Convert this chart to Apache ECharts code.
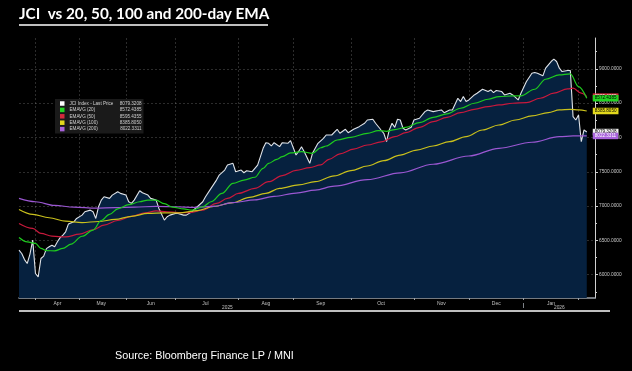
<!DOCTYPE html>
<html><head><meta charset="utf-8">
<script src="https://cdn.jsdelivr.net/npm/echarts@6/dist/echarts.min.js"></script>
<style>html,body{margin:0;padding:0;background:#000;}#c{width:632px;height:371px;}</style>
</head><body><div id="c"></div>
<script>
// ---- axis definitions (trading days per month shown on the chart) ----
const monthNames = ['Mar','Apr','May','Jun','Jul','Aug','Sep','Oct','Nov','Dec','Jan','Feb'];
const monthTradingDays = [6,16,17,18,23,20,21,23,20,20,20,7];
const yearLabelDays = [76,197];
const yearLabelTexts = ['2025','2026'];
const yearBoundaryDay = 184;
const yTickValues = [6000,6500,7000,7500,8000,8500,9000];
const yMinorTickValues = [5750,6250,6750,7250,7750,8250,8750,9250];

// ---- series (trading-day index, value) ----
const priceDays = [0,1,2,3,4,5,6,7,8,9,10,11,12,13,14,15,16,17,18,20,21,23,24,26,27,28,29,30,31,33,34,36,37,39,40,41,42,44,45,47,48,50,51,53,54,55,57,58,60,61,63,65,67,68,70,72,73,75,76,78,79,81,82,83,85,87,89,90,91,92,93,95,96,98,99,101,102,103,104,106,107,109,111,112,114,116,117,119,120,122,124,126,127,129,130,132,133,134,135,136,137,138,139,140,141,143,144,146,148,149,151,153,154,155,157,158,160,161,162,163,164,166,167,169,171,172,173,174,176,177,179,180,182,183,185,187,188,189,191,192,194,195,196,197,198,200,201,202,203,204,205,206,207];
const priceVals = [6357,6309,6220,6163,6300,6503,6017,5968,6236,6270,6380,6406,6430,6406,6479,6540,6576,6625,6737,6771,6820,6868,6917,6941,6917,6820,6990,7087,7136,7112,7160,7209,7185,7160,7063,7039,7087,7224,7194,7160,7112,7087,6966,6795,6844,6868,6893,6893,6868,6868,6917,6990,7063,7136,7258,7379,7452,7525,7598,7623,7501,7525,7486,7515,7501,7598,7842,7924,7915,7876,7924,7866,7924,7915,7954,7744,7800,7866,7793,7623,7769,7915,7988,8036,8036,8119,8061,8119,8070,8119,8158,8207,8255,8265,8207,8109,8061,7939,8109,8207,8148,8265,8255,8134,8109,8148,8255,8280,8377,8401,8377,8392,8401,8362,8401,8401,8572,8523,8596,8523,8547,8620,8645,8703,8669,8693,8654,8684,8669,8620,8645,8620,8547,8645,8815,8937,8946,8937,8898,9010,9107,9141,9107,9010,8961,8976,8976,8304,8255,8328,7939,8109,8079.3208];

const ema20Days = [0,3,6,8,10,13,16,19,23,27,30,33,36,40,44,47,50,53,56,60,63,67,70,74,78,82,86,89,91,94,96,99,103,107,110,112,116,121,127,131,134,137,141,146,151,156,161,166,171,175,180,183,188,192,197,201,204,207];
const ema20Vals = [6543,6479,6455,6382,6350,6347,6382,6445,6560,6650,6790,6880,6960,7020,7063,7087,7087,7035,6985,6960,6941,6990,7063,7185,7331,7379,7420,7550,7623,7680,7720,7775,7793,7769,7850,7876,7963,8002,8061,8100,8090,8115,8148,8216,8294,8343,8426,8499,8557,8596,8606,8606,8703,8849,8912,8927,8742,8572.4385];

const ema50Days = [0,5,8,12,17,22,27,31,36,41,46,50,54,58,62,67,72,76,80,86,91,96,101,106,110,113,117,122,127,132,137,141,146,151,156,161,166,171,175,180,185,190,195,200,202,205,207];
const ema50Vals = [6747,6674,6601,6562,6550,6590,6655,6722,6790,6850,6902,6930,6917,6905,6905,6941,7039,7112,7185,7258,7355,7445,7520,7560,7600,7681,7760,7830,7890,7935,8012,8070,8148,8231,8294,8362,8411,8450,8474,8499,8508,8572,8645,8708,8718,8645,8595.4355];

const ema100Days = [0,5,11,17,23,29,35,41,47,53,59,65,71,78,84,90,95,102,108,115,121,127,133,139,145,151,157,163,169,175,181,187,193,197,201,204,207];
const ema100Vals = [6951,6880,6830,6780,6760,6775,6805,6850,6893,6902,6902,6935,6995,7050,7126,7185,7258,7310,7355,7440,7516,7584,7662,7744,7817,7876,7939,8012,8109,8182,8255,8314,8362,8401,8411,8401,8385.805];

const ema200Days = [0,6,13,20,28,35,42,50,57,64,71,78,86,93,101,108,115,127,139,151,164,175,187,197,202,207];
const ema200Vals = [7112,7063,7010,6985,6970,6978,6985,6995,6990,6982,6995,7050,7090,7140,7190,7233,7290,7385,7485,7610,7730,7842,7930,8012,8022,8022.3311];

// ---- build categories / month ticks from the month arrays ----
const categories = [];
const monthStart = new Set();
const monthMid = new Map();
let k = 0;
monthNames.forEach((m, mi) => {
  const n = monthTradingDays[mi];
  if (mi > 0) monthStart.add(k);
  if (mi > 0 && mi < monthNames.length - 1) monthMid.set(k + Math.floor(n / 2), m);
  for (let d = 1; d <= n; d++) categories.push(m + ' ' + d);
  k += n;
});
const yearMap = new Map(yearLabelDays.map((d, i) => [d, yearLabelTexts[i]]));
const zip = (a, b) => a.map((d, i) => [d, b[i]]);

const names = ['JCI Index - Last Price','EMAVG (20)','EMAVG (50)','EMAVG (100)','EMAVG (200)'];
const lastVals = {};
[priceVals, ema20Vals, ema50Vals, ema100Vals, ema200Vals].forEach((arr, i) => { lastVals[names[i]] = arr[arr.length - 1].toFixed(4); });

const FONT = 'Liberation Sans';
function tag(bg, fg) {
  return {
    show: true, offset: [6, 0], distance: 0,
    backgroundColor: bg, color: fg, fontSize: 4.6, fontFamily: FONT,
    padding: [1, 2, 0.5, 2],
    formatter: p => Number(p.value[1]).toFixed(4)
  };
}
function emaSeries(name, days, vals, color, tagBg, tagFg, z) {
  return {
    name, type: 'line', xAxisIndex: 0, yAxisIndex: 0, data: zip(days, vals),
    symbol: 'none', smooth: 0.35, smoothMonotone: 'x', z,
    lineStyle: { color, width: 1.2 }, itemStyle: { color: tagBg },
    endLabel: tag(tagBg, tagFg), emphasis: { disabled: true }
  };
}
const gridLine = { color: 'rgba(200,200,200,0.28)', type: [2, 2], width: 0.8 };

const chart = echarts.init(document.getElementById('c'), null, { renderer: 'canvas' });
chart.setOption({
  backgroundColor: '#000',
  animation: false,
  title: [
    { text: 'JCI  vs 20, 50, 100 and 200-day EMA', left: 19, top: 7, padding: 0,
      textStyle: { color: '#fff', fontSize: 15.3, fontWeight: 'bold', fontFamily: 'Lato' } },
    { text: 'Source: Bloomberg Finance LP / MNI', left: 115, top: 351, padding: 0,
      textStyle: { color: '#fff', fontSize: 10.8, fontWeight: 'normal', fontFamily: FONT } }
  ],
  graphic: [
    { type: 'line', shape: { x1: 19, y1: 25, x2: 268, y2: 25 }, style: { stroke: '#fff', lineWidth: 1.3 } },
    { type: 'line', shape: { x1: 19, y1: 311, x2: 610, y2: 311 }, style: { stroke: '#fff', lineWidth: 1.6 } }
  ],
  legend: {
    data: names, orient: 'vertical', left: 55, top: 99,
    icon: 'rect', itemWidth: 4.5, itemHeight: 4.5, itemGap: 1.4,
    selectedMode: false,
    backgroundColor: '#1a1a1a', padding: [2, 2, 2, 5],
    textStyle: {
      color: '#d0d0d0', fontSize: 4.6, fontFamily: FONT,
      rich: {
        n: { width: 46, fontSize: 4.6, color: '#d0d0d0', fontFamily: FONT },
        v: { width: 26, align: 'right', fontSize: 4.6, color: '#d0d0d0', fontFamily: FONT }
      }
    },
    formatter: name => '{n|' + name + '}{v|' + lastVals[name] + '}'
  },
  grid: { left: 19, right: 37, top: 38, bottom: 73, containLabel: false },
  xAxis: [
    { type: 'value', min: 0, max: categories.length - 1, show: false, axisLine: { onZero: false } },
    { type: 'category', data: categories, boundaryGap: false, position: 'bottom',
      axisLine: { show: true, onZero: false, lineStyle: { color: '#9ca2aa', width: 1.6 } },
      axisTick: { show: true, interval: i => monthStart.has(i), length: 2, lineStyle: { color: '#9ca2aa' } },
      axisLabel: { show: true, interval: i => monthMid.has(i), formatter: (v, i) => monthMid.get(i) || '',
        color: '#c0c0c0', fontSize: 5, fontFamily: FONT, margin: 3 },
      splitLine: { show: true, interval: i => monthStart.has(i), lineStyle: gridLine } },
    { type: 'category', data: categories, boundaryGap: false, position: 'bottom', offset: 5,
      axisLine: { show: false, onZero: false },
      axisTick: { show: true, interval: i => i === yearBoundaryDay, length: 5, lineStyle: { color: '#9ca2aa', width: 0.8 } },
      axisLabel: { show: true, interval: i => yearMap.has(i), formatter: (v, i) => yearMap.get(i) || '',
        color: '#c0c0c0', fontSize: 4.8, fontFamily: FONT, margin: 2 },
      splitLine: { show: false } }
  ],
  yAxis: [
    { type: 'value', position: 'right', min: 5660, max: 9450, scale: true,
      axisLine: { show: true, onZero: false, lineStyle: { color: '#d0d0d0', width: 1 } },
      axisTick: { show: true, customValues: yTickValues, length: 3, lineStyle: { color: '#d0d0d0' } },
      axisLabel: { show: true, customValues: yTickValues, formatter: v => Number(v).toFixed(4),
        color: '#c8c8c8', fontSize: 4.8, fontFamily: FONT, margin: 4 },
      splitLine: { show: true, lineStyle: gridLine } },
    { type: 'value', position: 'right', min: 5660, max: 9450, scale: true,
      axisLine: { show: false, onZero: false },
      axisTick: { show: true, customValues: yMinorTickValues, length: 2, lineStyle: { color: '#d0d0d0' } },
      axisLabel: { show: false }, splitLine: { show: false } }
  ],
  series: [
    { name: names[0], type: 'line', xAxisIndex: 0, yAxisIndex: 0, data: zip(priceDays, priceVals),
      symbol: 'none', z: 2,
      lineStyle: { color: '#dfe3e8', width: 1.1 }, itemStyle: { color: '#ffffff' },
      areaStyle: { color: '#06213f', opacity: 1, origin: 'start' },
      endLabel: tag('#f2f2f2', '#000'), emphasis: { disabled: true } },
    emaSeries(names[2], ema50Days, ema50Vals, '#c8193c', '#d42a3c', '#fff', 3),
    emaSeries(names[1], ema20Days, ema20Vals, '#1ecb1e', '#22d422', '#000', 4),
    emaSeries(names[3], ema100Days, ema100Vals, '#c9c01c', '#e2d81c', '#000', 3),
    emaSeries(names[4], ema200Days, ema200Vals, '#9b57d2', '#a862dc', '#fff', 3)
  ]
});
</script></body></html>
